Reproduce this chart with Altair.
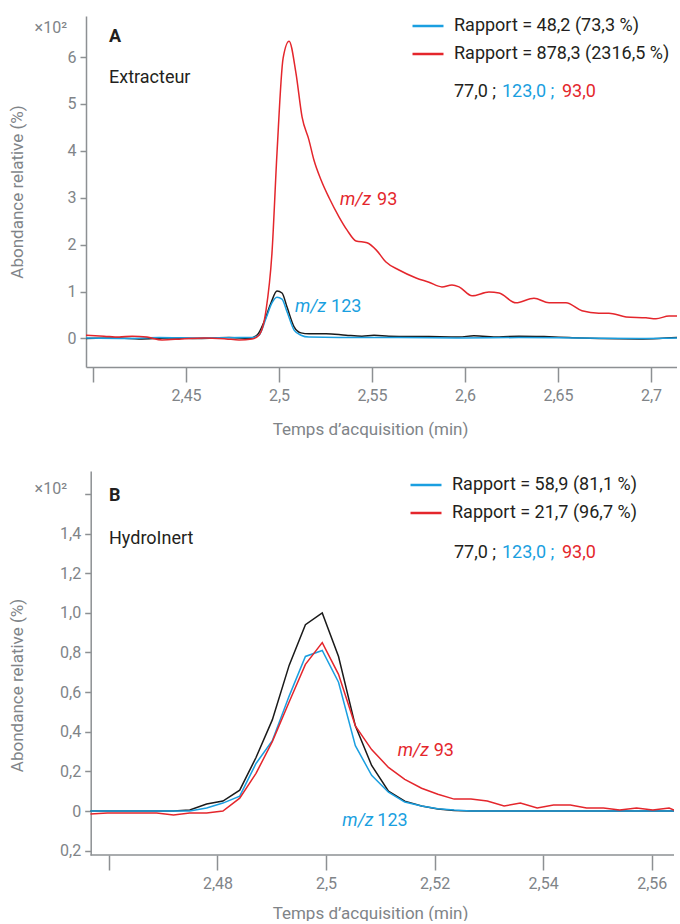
import altair as alt
import pandas as pd

FONT = "Roboto"
LABEL_GRAY = "#808488"
AXIS_GRAY = "#8d9093"
TEXT = "#231f20"
BLACK = "#1a1a1a"
BLUE = "#1a9fe0"
RED = "#e4262c"

IONS = ["77,0", "123,0", "93,0"]
ION_COLORS = [BLACK, BLUE, RED]

# ---------------- Panel A : Extracteur ----------------
A_T_77 = [2.3962, 2.4140, 2.4247, 2.4409, 2.4570, 2.4731, 2.4839, 2.4882, 2.4919, 2.4957,
          2.4989, 2.5016, 2.5043, 2.5081, 2.5118, 2.5161, 2.5253, 2.5360, 2.5446, 2.5511,
          2.5591, 2.5806, 2.5968, 2.6048, 2.6183, 2.6290, 2.6425, 2.6559, 2.6720, 2.6935,
          2.7043, 2.7140]
A_V_77 = [0.0, 0.01, -0.01, 0.01, 0.0, 0.02, 0.0, 0.07, 0.35, 0.76,
          1.01, 0.97, 0.67, 0.25, 0.12, 0.10, 0.10, 0.07, 0.05, 0.07,
          0.05, 0.04, 0.03, 0.06, 0.03, 0.05, 0.04, 0.02, 0.0, -0.01,
          0.0, 0.02]

A_T_123 = [2.3962, 2.4194, 2.4355, 2.4570, 2.4785, 2.4855, 2.4892, 2.4930, 2.4962, 2.4989,
           2.5016, 2.5043, 2.5081, 2.5118, 2.5161, 2.5323, 2.5645, 2.5968, 2.6290, 2.6613,
           2.6935, 2.7140]
A_V_123 = [0.01, 0.0, 0.02, 0.01, 0.02, 0.02, 0.07, 0.43, 0.76, 0.88,
           0.84, 0.57, 0.18, 0.07, 0.03, 0.02, 0.02, 0.01, 0.02, 0.01,
           0.0, 0.01]

A_T_93 = [2.3962, 2.4059, 2.4140, 2.4210, 2.4290, 2.4371, 2.4478, 2.4597, 2.4715, 2.4785,
          2.4855, 2.4892, 2.4930, 2.4962, 2.4989, 2.5022, 2.5054, 2.5091, 2.5124, 2.5161,
          2.5188, 2.5226, 2.5269, 2.5323, 2.5366, 2.5414, 2.5473, 2.5522, 2.5575, 2.5645,
          2.5737, 2.5806, 2.5876, 2.5930, 2.5968, 2.6038, 2.6129, 2.6183, 2.6274, 2.6371,
          2.6452, 2.6543, 2.6629, 2.6720, 2.6774, 2.6866, 2.6973, 2.7027, 2.7097, 2.7140]
A_V_93 = [0.07, 0.05, 0.03, 0.05, 0.03, -0.03, -0.01, 0.01, -0.01, -0.03,
          -0.01, 0.07, 0.60, 1.82, 3.95, 5.98, 6.34, 5.66, 4.72, 4.23,
          3.80, 3.38, 3.00, 2.59, 2.31, 2.08, 2.04, 1.89, 1.63, 1.46,
          1.29, 1.20, 1.10, 1.14, 1.10, 0.91, 0.99, 0.97, 0.76, 0.86,
          0.76, 0.76, 0.59, 0.54, 0.54, 0.46, 0.44, 0.42, 0.48, 0.48]

A_LEGEND = {"123,0": "Rapport = 48,2 (73,3 %)", "93,0": "Rapport = 878,3 (2316,5 %)"}
A_X_TICKS = [2.40, 2.45, 2.50, 2.55, 2.60, 2.65, 2.70]
A_Y_TICKS = [0, 1, 2, 3, 4, 5, 6]

# ---------------- Panel B : HydroInert ----------------
B_T = [2.4566, 2.4597, 2.4627, 2.4658, 2.4688, 2.4719, 2.4749, 2.4780, 2.4810, 2.4841,
       2.4871, 2.4901, 2.4932, 2.4962, 2.4993, 2.5023, 2.5054, 2.5084, 2.5115, 2.5145,
       2.5176, 2.5206, 2.5236, 2.5267, 2.5297, 2.5328, 2.5358, 2.5389, 2.5419, 2.5450,
       2.5480, 2.5511, 2.5541, 2.5572, 2.5602, 2.5632, 2.5641]
B_V_77 = [0, 0, 0, 0, 0, 0, 0.005, 0.035, 0.05, 0.105,
          0.27, 0.46, 0.735, 0.94, 1.0, 0.78, 0.43, 0.23, 0.10, 0.05,
          0.025, 0.01, 0.003, 0, 0, 0, 0, 0, 0, 0,
          0, 0, 0, 0, 0, 0, 0]
B_V_123 = [0, 0, 0, 0, 0, 0, 0, 0.015, 0.04, 0.075,
           0.24, 0.355, 0.58, 0.78, 0.81, 0.65, 0.33, 0.18, 0.095, 0.045,
           0.025, 0.012, 0.005, 0, 0, 0, 0, 0, 0, 0,
           0, 0, 0, 0, 0, 0, 0]
B_V_93 = [-0.015, -0.01, -0.01, -0.01, -0.01, -0.02, -0.01, -0.01, 0.0, 0.065,
          0.19, 0.35, 0.55, 0.74, 0.85, 0.69, 0.43, 0.31, 0.22, 0.16,
          0.115, 0.085, 0.06, 0.06, 0.05, 0.025, 0.04, 0.015, 0.03, 0.03,
          0.015, 0.015, 0.005, 0.015, 0.005, 0.015, 0.005]

B_LEGEND = {"123,0": "Rapport = 58,9 (81,1 %)", "93,0": "Rapport = 21,7 (96,7 %)"}
B_X_TICKS = [2.46, 2.48, 2.50, 2.52, 2.54, 2.56]
B_Y_TICKS = [-0.2, 0, 0.2, 0.4, 0.6, 0.8, 1.0, 1.2, 1.4, 1.6]

X_TITLE = "Temps d\u2019acquisition (min)"
Y_TITLE = "Abondance relative (%)"
SCALE_NOTE = "\u00d710\u00b2"
MZ = "m/z"


def frame(series):
    rows = []
    for ion, ts, vs in series:
        for t, v in zip(ts, vs):
            rows.append({"t": t, "v": v, "ion": ion})
    return pd.DataFrame(rows)


def txt(s, x, y, color, size=18, weight="normal", style="normal", align="left", baseline="alphabetic"):
    return alt.Chart(pd.DataFrame({"s": [s]})).mark_text(
        align=align, baseline=baseline, font=FONT, fontSize=size,
        fontWeight=weight, fontStyle=style, color=color
    ).encode(x=alt.value(x), y=alt.value(y), text="s:N")


def dtxt(s, t, v, color, dx=0, style="normal"):
    return alt.Chart(pd.DataFrame({"s": [s]})).mark_text(
        align="left", baseline="middle", font=FONT, fontSize=18,
        fontStyle=style, color=color, dx=dx
    ).encode(x=alt.datum(t), y=alt.datum(v), text="s:N")


def panel(df, xdom, xticks, xfirst, ydom, yticks, ylabel_expr, width, height,
          legend_map, legend_xy, y_title_x, y_title_y, x_title_x, interp,
          x_title_pad, y_offset, x_domain):
    lab_expr = "datum.label == '123,0' ? '%s' : '%s'" % (legend_map["123,0"], legend_map["93,0"])
    x_axis = alt.Axis(
        values=xticks, title=X_TITLE, titleX=x_title_x,
        labelExpr="datum.value < %f ? '' : replace(format(datum.value, '.2~f'), '.', ',')" % xfirst,
        tickSize=15, tickWidth=1.5, tickColor=AXIS_GRAY,
        domain=x_domain, domainColor=AXIS_GRAY, domainWidth=1.5,
        labelFont=FONT, labelFontSize=16, labelColor=LABEL_GRAY, labelPadding=5,
        titleFont=FONT, titleFontSize=17, titleFontWeight="normal", titleColor=LABEL_GRAY,
        titlePadding=x_title_pad, grid=False, labelFlush=False, labelOverlap=False,
    )
    yargs = dict(
        values=yticks, title=Y_TITLE, titleX=y_title_x, labelExpr=ylabel_expr,
        tickSize=6, tickWidth=1.5, tickColor=AXIS_GRAY, offset=y_offset,
        domainColor=AXIS_GRAY, domainWidth=1.5,
        labelFont=FONT, labelFontSize=16, labelColor=LABEL_GRAY, labelPadding=4,
        titleFont=FONT, titleFontSize=17, titleFontWeight="normal", titleColor=LABEL_GRAY,
        grid=False, labelFlush=False, labelOverlap=False,
    )
    if y_title_y is not None:
        yargs["titleY"] = y_title_y
    y_axis = alt.Axis(**yargs)
    lines = alt.Chart(df).mark_line(strokeWidth=1.5, clip=True, interpolate=interp).encode(
        x=alt.X("t:Q", scale=alt.Scale(domain=xdom, nice=False, zero=False), axis=x_axis),
        y=alt.Y("v:Q", scale=alt.Scale(domain=ydom, nice=False, zero=False), axis=y_axis),
        color=alt.Color(
            "ion:N", sort=IONS,
            scale=alt.Scale(domain=IONS, range=ION_COLORS),
            legend=alt.Legend(
                orient="none", legendX=legend_xy[0], legendY=legend_xy[1],
                values=["123,0", "93,0"], title=None, labelExpr=lab_expr,
                symbolType="M-2,0L2,0", symbolSize=240, symbolStrokeWidth=2.5,
                labelFont=FONT, labelFontSize=18, labelColor=TEXT, labelLimit=0,
                labelOffset=17, rowPadding=10, padding=0,
            ),
        ),
    )
    return lines.properties(width=width, height=height)


dfA = frame([("77,0", A_T_77, A_V_77), ("123,0", A_T_123, A_V_123), ("93,0", A_T_93, A_V_93)])
dfB = frame([("77,0", B_T, B_V_77), ("123,0", B_T, B_V_123), ("93,0", B_T, B_V_93)])

yA_expr = "format(datum.value, 'd')"
yB_expr = ("datum.value > 1.5 ? '' : (datum.value == 0 ? '0' : "
           "replace(format(abs(datum.value), '.1f'), '.', ','))")

linesA = panel(dfA, [2.3962, 2.7140], A_X_TICKS, 2.41, [-0.608, 6.876], A_Y_TICKS, yA_expr,
               591, 351, A_LEGEND, (333, 1), -60, None, 284, "monotone", 18, 0, True)
linesB = panel(dfB, [2.45578, 2.5641], B_X_TICKS, 2.47, [-0.222, 1.716], B_Y_TICKS, yB_expr,
               588, 384, B_LEGEND, (331, 5), -64, 214, 284, "linear", 14, -4.7, False)

# bottom axis line of panel B (starts at the y axis, which is offset)
axis_line_B = alt.Chart(pd.DataFrame({"a": [0]})).mark_rule(
    color=AXIS_GRAY, strokeWidth=1.5
).encode(x=alt.datum(B_T[0]), x2=alt.datum(B_T[-1]), y=alt.value(384))

chartA = alt.layer(
    linesA,
    txt(SCALE_NOTE, -19, 17, LABEL_GRAY, size=16, align="right"),
    txt("A", 23, 26, TEXT, size=18, weight="bold"),
    txt("Extracteur", 23, 67, TEXT),
    txt("77,0 ;", 368, 81, TEXT),
    txt("123,0 ;", 416, 81, BLUE),
    txt("93,0", 476, 81, RED),
    dtxt(MZ, 2.5328, 2.95, RED, style="italic"),
    dtxt("93", 2.5328, 2.95, RED, dx=37),
    dtxt(MZ, 2.5086, 0.67, BLUE, style="italic"),
    dtxt("123", 2.5086, 0.67, BLUE, dx=36),
).resolve_scale(color="independent")

chartB = alt.layer(
    linesB,
    axis_line_B,
    txt(SCALE_NOTE, -19, 23, LABEL_GRAY, size=16, align="right"),
    txt("B", 23, 30, TEXT, size=18, weight="bold"),
    txt("HydroInert", 23, 73, TEXT),
    txt("77,0 ;", 368, 87, TEXT),
    txt("123,0 ;", 416, 87, BLUE),
    txt("93,0", 476, 87, RED),
    dtxt(MZ, 2.5132, 0.303, RED, style="italic"),
    dtxt("93", 2.5132, 0.303, RED, dx=36),
    dtxt(MZ, 2.5030, -0.05, BLUE, style="italic"),
    dtxt("123", 2.5030, -0.05, BLUE, dx=35),
).resolve_scale(color="independent")

chart = alt.ConcatChart(
    concat=[chartA, chartB], columns=1, spacing=34,
).resolve_scale(color="independent", x="independent", y="independent").resolve_legend(
    color="independent"
).properties(
    padding={"left": 8, "top": 16, "right": 0, "bottom": 0},
    background="white",
).configure_view(stroke=None)

chart.save("out.html", embed_options={"renderer": "svg", "actions": False})
